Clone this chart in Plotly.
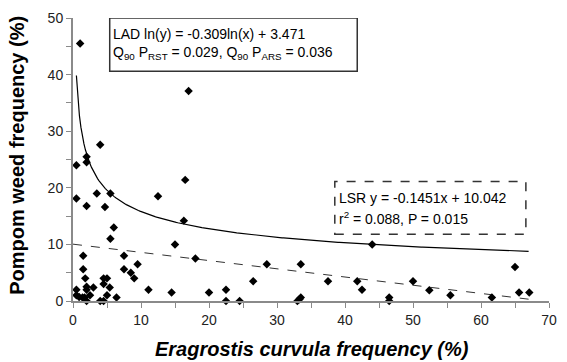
import numpy as np
import plotly.graph_objects as go

# Observed data (Eragrostis curvula frequency %, Pompom weed frequency %)
ec_freq = [1.05, 17.0, 4.0, 2.0, 2.0, 0.5, 0.5, 3.5, 5.5, 2.0, 4.7, 6.0, 5.5,
           16.5, 12.5, 16.3, 15.0, 18.0, 1.5, 7.5, 9.5, 1.5, 7.5, 8.5, 1.8,
           4.5, 5.0, 9.0, 4.5, 0.5, 2.0, 2.0, 3.0, 5.4, 11.1, 0.5, 0.9, 1.4,
           1.7, 2.0, 2.5, 4.0, 4.5, 5.0, 6.4, 14.5, 20.0, 22.5, 22.5, 24.5,
           26.5, 28.5, 33.5, 33.0, 33.3, 33.5, 37.5, 44.0, 41.8, 42.5, 46.5,
           46.5, 50.0, 52.4, 55.5, 61.6, 65.0, 65.6, 67.1]
pw_freq = [45.5, 37.1, 27.6, 25.5, 24.5, 24.0, 18.1, 19.0, 19.0, 16.8, 16.6,
           13.0, 11.0, 21.4, 18.5, 14.2, 10.0, 7.5, 8.0, 8.0, 6.5, 5.6, 5.6,
           5.0, 4.0, 4.0, 4.0, 4.0, 3.0, 2.0, 2.5, 2.0, 2.4, 2.4, 2.0, 1.0,
           0.7, 0.6, 0.6, 0.0, 1.0, 0.0, 0.0, 1.0, 0.6, 1.5, 1.5, 2.0, 0.0,
           0.0, 3.5, 6.5, 6.5, 0.0, 0.3, 0.6, 3.5, 10.0, 3.5, 2.0, 0.6, 0.0,
           3.5, 1.9, 1.0, 0.6, 6.0, 1.5, 1.5]

# Fitted models (coefficients from the chart)
lad_slope, lad_int = -0.309, 3.471
lsr_slope, lsr_int = -0.1451, 10.042
lad_x = np.linspace(0.5, 67, 300)
lad_y = np.exp(lad_int) * lad_x ** lad_slope
lsr_x = np.array([0.0, 67.0])
lsr_y = lsr_slope * lsr_x + lsr_int

x_ticks = [0, 10, 20, 30, 40, 50, 60, 70]
y_ticks = [0, 10, 20, 30, 40, 50]

FONT = "Arial, Liberation Sans, sans-serif"

fig = go.Figure()
fig.add_trace(go.Scatter(x=lad_x, y=lad_y, mode="lines",
                         line=dict(color="black", width=1.2), hoverinfo="skip"))
fig.add_trace(go.Scatter(x=lsr_x, y=lsr_y, mode="lines",
                         line=dict(color="#333333", width=1, dash="dash"), hoverinfo="skip"))
fig.add_trace(go.Scatter(x=ec_freq, y=pw_freq, mode="markers", cliponaxis=False,
                         marker=dict(symbol="diamond", size=6.5, color="black")))

axis_common = dict(showgrid=False, zeroline=False, showline=True, linecolor="#8a8a8a",
                   linewidth=2, ticks="outside", ticklen=5, tickcolor="#8a8a8a", tickwidth=1,
                   tickfont=dict(family=FONT, size=14, color="#222222"))
fig.update_xaxes(range=[0, 70], tickvals=x_ticks,
                 minor=dict(dtick=5, ticks="outside", ticklen=5, tickcolor="#8a8a8a"),
                 **axis_common)
fig.update_yaxes(range=[0, 50], tickvals=y_ticks,
                 minor=dict(dtick=5, ticks="outside", ticklen=5, tickcolor="#8a8a8a"),
                 **axis_common)

shapes = [
    dict(type="rect", xref="x", yref="y", x0=5.4, x1=41.8, y0=40.6, y1=50.0,
         line=dict(color="#333333", width=1.5), fillcolor="white", layer="below"),
    dict(type="rect", xref="x", yref="y", x0=38.5, x1=66.6, y0=11.8, y1=21.1,
         line=dict(color="#333333", width=1.5, dash="dash"), fillcolor="white", layer="below"),
]

box_font = dict(family=FONT, size=14, color="black")
annotations = [
    dict(x=5.6, y=47.2, xref="x", yref="y", xanchor="left", yanchor="middle", showarrow=False,
         text="LAD ln(y) = -0.309ln(x) + 3.471", font=box_font),
    dict(x=5.6, y=43.8, xref="x", yref="y", xanchor="left", yanchor="middle", showarrow=False,
         text="Q<sub>90</sub> P<sub>RST</sub> = 0.029, Q<sub>90</sub> P<sub>ARS</sub> = 0.036",
         font=box_font),
    dict(x=38.8, y=18.2, xref="x", yref="y", xanchor="left", yanchor="middle", showarrow=False,
         text="LSR y = -0.1451x + 10.042", font=box_font),
    dict(x=38.8, y=14.7, xref="x", yref="y", xanchor="left", yanchor="middle", showarrow=False,
         text="r<sup>2</sup> = 0.088, P = 0.015", font=box_font),
    dict(x=0.503, y=-0.17, xref="paper", yref="paper", xanchor="center", yanchor="middle",
         showarrow=False, text="<b><i>Eragrostis curvula frequency (%)</i></b>",
         font=dict(family=FONT, size=20, color="black")),
    dict(x=-0.118, y=0.516, xref="paper", yref="paper", xanchor="center", yanchor="middle",
         showarrow=False, textangle=-90, text="<b>Pompom weed frequency (%)</b>",
         font=dict(family=FONT, size=20, color="black")),
]

fig.update_layout(width=567, height=362, showlegend=False,
                  margin=dict(l=73, r=10, t=18, b=61),
                  plot_bgcolor="white", paper_bgcolor="white",
                  shapes=shapes, annotations=annotations)

fig.write_html("out.html")
